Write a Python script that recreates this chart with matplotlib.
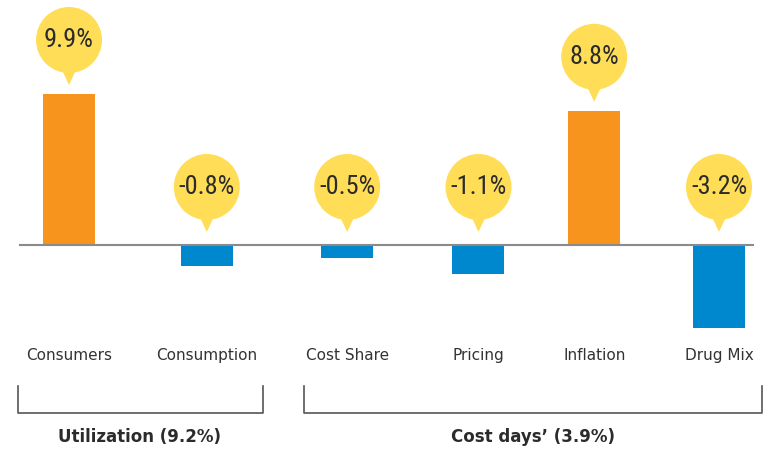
import numpy as np
import matplotlib
matplotlib.use("Agg")
import matplotlib.pyplot as plt
from matplotlib.patches import Circle, Polygon
from matplotlib.transforms import ScaledTranslation
from matplotlib.lines import Line2D
from matplotlib.ticker import NullLocator
from matplotlib import font_manager

categories = ["Consumers", "Consumption", "Cost Share", "Pricing", "Inflation", "Drug Mix"]
values = [9.9, -0.8, -0.5, -1.1, 8.8, -3.2]
labels = ["9.9%", "-0.8%", "-0.5%", "-1.1%", "8.8%", "-3.2%"]
groups = ["Utilization (9.2%)", "Cost days\u2019 (3.9%)"]

# layout (not data)
slot = [0, 1.06, 2.14, 3.15, 4.04, 5.0]
orange = "#F7941D"
blue = "#0088CE"
yellow = "#FFDD57"

# pick a narrow face for the bubble numbers if there is one
have = {f.name for f in font_manager.fontManager.ttflist}
narrow = "Roboto"
for name in ["DejaVu Sans Condensed", "Liberation Sans Narrow", "Roboto Condensed", "Roboto"]:
    if name in have:
        narrow = name
        break
num_size = 19 if narrow != "Roboto" else 16

W, H = 776, 450
fig = plt.figure(figsize=(W / 100, H / 100), dpi=100)
ax = fig.add_axes([0, (H - 335) / H, 1, 335 / H])

# negatives are drawn stretched in the original
neg_k = 1.7
def fwd(v):
    v = np.asarray(v, dtype=float)
    return np.where(v < 0, v * neg_k, v)
def inv(v):
    v = np.asarray(v, dtype=float)
    return np.where(v < 0, v / neg_k, v)
ax.set_yscale("function", functions=(fwd, inv))

ppu = 15.25  # px per unit
ppx = 130.0

cols = [orange if v > 0 else blue for v in values]
ax.bar(slot, values, width=52 / ppx, color=cols, zorder=2)
ax.axhline(0, xmin=20 / W, xmax=753 / W, color="#8a8a8a", lw=1.5, zorder=3)

for x, v, lab in zip(slot, values, labels):
    base = max(v, 0)
    tip = 9 if v > 0 else 13
    tr = fig.dpi_scale_trans + ScaledTranslation(x, base, ax.transData)
    c = Circle((0, (tip + 45) / 100), 33 / 100, transform=tr, fc=yellow, ec="none",
               clip_on=False, zorder=4)
    ax.add_patch(c)
    t = Polygon([(-7 / 100, (tip + 15) / 100), (7 / 100, (tip + 15) / 100), (0, tip / 100)],
                closed=True, transform=tr, fc=yellow, ec="none", clip_on=False, zorder=4)
    ax.add_patch(t)
    ax.text(0, (tip + 45) / 100, lab, transform=tr, ha="center", va="center",
            fontsize=num_size, color="#2b2b2b", zorder=5,
            family=[narrow, "DejaVu Sans"])

ax.set_xlim(-69 / ppx, (W - 69) / ppx)
ax.set_ylim(-(335 - 245) / ppu / neg_k, 245 / ppu)

ax.set_xticks(slot, categories)
ax.tick_params(axis="x", length=0, pad=9.3, labelsize=11, labelcolor="#333333")
ax.set_yticks([])
ax.yaxis.set_minor_locator(NullLocator())
for s in ax.spines.values():
    s.set_visible(False)

# brackets
for x0, x1 in [(18, 263), (304, 762)]:
    fig.add_artist(Line2D([x0 / W, x0 / W, x1 / W, x1 / W],
                          [1 - 386 / H, 1 - 413 / H, 1 - 413 / H, 1 - 386 / H],
                          color="#555555", lw=1.2))
fig.text(140 / W, 1 - 437 / H, groups[0], ha="center", va="center",
         fontsize=12, fontweight="bold", color="#2b2b2b")
fig.text(533 / W, 1 - 437 / H, groups[1], ha="center", va="center",
         fontsize=12, fontweight="bold", color="#2b2b2b")

fig.savefig("out.png", dpi=100)
